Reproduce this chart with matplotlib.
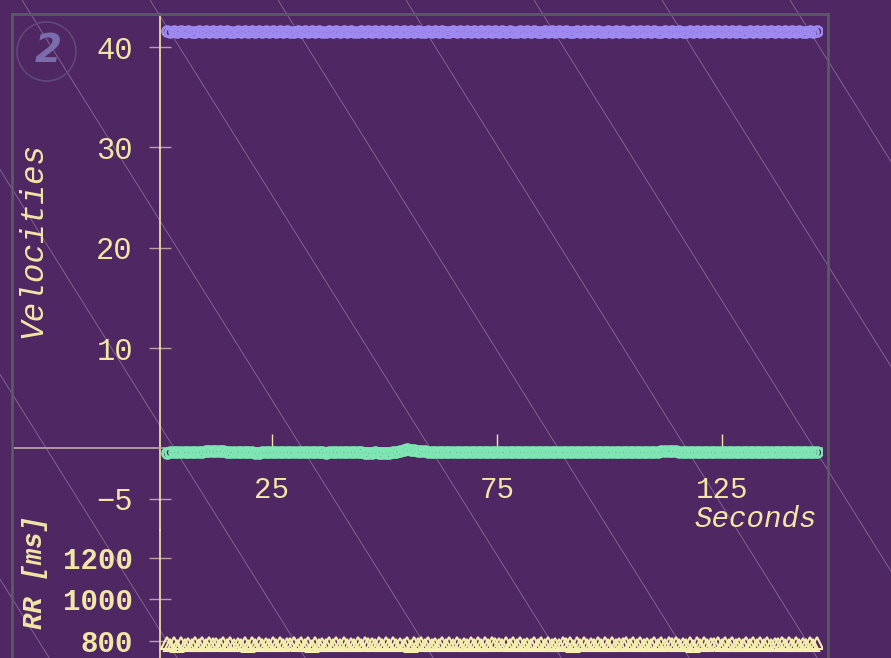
import matplotlib.pyplot as plt
import numpy as np
from matplotlib.lines import Line2D
from matplotlib.patches import Ellipse

# RR intervals (ms), one per beat
rr_ms = [
    792, 781, 789, 778, 790, 783, 787, 779, 791, 782, 788, 780, 790, 784, 786,
    779, 789, 782, 791, 780, 787, 783, 790, 778, 788, 781, 792, 783, 786, 780,
    789, 782, 790, 779, 787, 784, 791, 780, 788, 782, 789, 778, 790, 783, 787,
    781, 791, 779, 788, 783, 790, 780, 787, 782, 792, 779, 789, 784, 786, 780,
    790, 782, 788, 779, 791, 783, 787, 781, 789, 778, 790, 784, 788, 780, 791,
    782, 787, 779, 790, 783, 788, 780, 791, 782, 786, 779, 789, 783, 790, 781,
    788, 780, 791, 784, 787, 779, 790, 782, 789, 781, 792, 783, 786, 780, 790,
    782, 788, 779, 791, 783, 787, 780, 789, 784, 790, 778, 788, 782, 791, 781,
    787, 783, 790, 779, 789, 782, 791, 780, 786, 784, 790, 781, 788, 779, 792,
    783, 787, 781, 790, 782, 789, 779, 788, 784, 791, 780, 787, 783, 790, 778,
    789, 782, 791, 780, 787, 784, 790, 779, 788, 783, 792, 781, 786, 782, 790,
    780, 788, 783, 791, 779, 789, 782, 787, 784, 790, 781, 788, 779, 791, 783,
    787, 780, 790, 782, 788,
]

# velocity series (same beats)
vel_high = [
    41.58, 41.52, 41.60, 41.54, 41.57, 41.51, 41.59, 41.55, 41.53, 41.60, 41.52, 41.58, 41.54, 41.61, 41.53,
    41.57, 41.52, 41.59, 41.55, 41.51, 41.60, 41.54, 41.58, 41.52, 41.57, 41.55, 41.61, 41.53, 41.58, 41.51,
    41.59, 41.54, 41.57, 41.52, 41.60, 41.55, 41.53, 41.58, 41.51, 41.59, 41.54, 41.57, 41.52, 41.60, 41.55,
    41.53, 41.58, 41.52, 41.61, 41.54, 41.57, 41.51, 41.59, 41.55, 41.52, 41.60, 41.54, 41.58, 41.53, 41.57,
    41.52, 41.60, 41.55, 41.58, 41.51, 41.59, 41.54, 41.57, 41.53, 41.61, 41.52, 41.58, 41.55, 41.53, 41.59,
    41.54, 41.57, 41.52, 41.60, 41.55, 41.51, 41.58, 41.53, 41.59, 41.54, 41.57, 41.52, 41.61, 41.55, 41.58,
    41.51, 41.59, 41.54, 41.57, 41.53, 41.60, 41.52, 41.58, 41.55, 41.53, 41.59, 41.54, 41.57, 41.51, 41.60,
    41.55, 41.52, 41.58, 41.54, 41.61, 41.53, 41.57, 41.52, 41.59, 41.55, 41.51, 41.60, 41.54, 41.58, 41.53,
    41.57, 41.52, 41.59, 41.55, 41.53, 41.60, 41.54, 41.58, 41.51, 41.59, 41.55, 41.52, 41.61, 41.54, 41.57,
    41.53, 41.58, 41.52, 41.60, 41.55, 41.51, 41.59, 41.54, 41.57, 41.52, 41.60, 41.55, 41.53, 41.58, 41.54,
    41.61, 41.52, 41.57, 41.55, 41.59, 41.51, 41.58, 41.54, 41.60, 41.53, 41.57, 41.52, 41.59, 41.55, 41.53,
    41.58, 41.54, 41.60, 41.52, 41.57, 41.55, 41.59, 41.51, 41.58, 41.54, 41.61, 41.53, 41.57, 41.52, 41.59,
    41.55, 41.53, 41.58, 41.54, 41.57,
]
vel_low = [
    -0.42, -0.40, -0.38, -0.36, -0.37, -0.35, -0.36, -0.34, -0.35, -0.33, -0.32, -0.30, -0.28, -0.27, -0.26,
    -0.28, -0.30, -0.33, -0.35, -0.36, -0.38, -0.37, -0.36, -0.38, -0.40, -0.42, -0.41, -0.40, -0.38, -0.36,
    -0.35, -0.34, -0.36, -0.37, -0.35, -0.33, -0.32, -0.34, -0.36, -0.38, -0.37, -0.35, -0.36, -0.38, -0.40,
    -0.41, -0.40, -0.38, -0.37, -0.36, -0.35, -0.34, -0.36, -0.38, -0.39, -0.40, -0.41, -0.42, -0.41, -0.40,
    -0.41, -0.42, -0.43, -0.42, -0.40, -0.35, -0.25, -0.15, -0.10, -0.12, -0.18, -0.24, -0.28, -0.30, -0.32,
    -0.33, -0.34, -0.35, -0.36, -0.35, -0.34, -0.33, -0.34, -0.36, -0.37, -0.38, -0.37, -0.36, -0.35, -0.36,
    -0.38, -0.39, -0.40, -0.39, -0.37, -0.36, -0.35, -0.34, -0.33, -0.34, -0.35, -0.36, -0.37, -0.38, -0.37,
    -0.36, -0.35, -0.36, -0.37, -0.38, -0.39, -0.38, -0.37, -0.36, -0.35, -0.34, -0.35, -0.36, -0.37, -0.38,
    -0.39, -0.40, -0.39, -0.38, -0.37, -0.36, -0.35, -0.36, -0.37, -0.38, -0.37, -0.36, -0.35, -0.34, -0.33,
    -0.32, -0.33, -0.34, -0.33, -0.31, -0.29, -0.26, -0.24, -0.25, -0.28, -0.31, -0.33, -0.34, -0.35, -0.36,
    -0.37, -0.36, -0.35, -0.36, -0.37, -0.38, -0.37, -0.36, -0.35, -0.34, -0.35, -0.36, -0.37, -0.36, -0.35,
    -0.34, -0.35, -0.36, -0.37, -0.38, -0.37, -0.36, -0.35, -0.34, -0.35, -0.36, -0.37, -0.36, -0.35, -0.34,
    -0.35, -0.36, -0.35, -0.34, -0.33,
]
t_start = 0.85  # s, time of first beat

vel_ticks = [-5, 10, 20, 30, 40]
rr_ticks = [800, 1000, 1200]
time_ticks = [25, 75, 125]

BG = '#4f2763'
TXT = '#f0e6a6'
TICK = '#b9a0a6'
MONO = ['Liberation Mono', 'DejaVu Sans Mono']

t = t_start + np.cumsum(rr_ms) / 1000.0

W, H = 891, 658
fig = plt.figure(figsize=(W / 100, H / 100), dpi=100, facecolor=BG)

def fx(px):
    return px / W

def fy(py):
    return 1 - py / H

# diagonal background hatching
for k in range(-4, 9):
    x0 = 22 + 128 * k
    fig.add_artist(Line2D([fx(x0), fx(x0 + H / 1.6)], [1, 0], color='white',
                          alpha=0.28, lw=0.7, zorder=0))

# grey frame
frame = dict(color='#5a5a64', lw=2, zorder=1)
fig.add_artist(Line2D([fx(12), fx(12)], [fy(14), 0], **frame))
fig.add_artist(Line2D([fx(12), fx(828)], [fy(14), fy(14)], **frame))
fig.add_artist(Line2D([fx(828), fx(828)], [fy(14), 0], **frame))

# panel badge
fig.add_artist(Ellipse((fx(46.5), fy(51.5)), 59 / W, 59 / H, fill=False,
                       ec='#5e4a78', lw=1.2, zorder=2))
fig.text(fx(48), fy(51), '2', fontsize=28, fontweight='bold', style='italic',
         color='#7b6cae', ha='center', va='center', family='DejaVu Sans')

# top axes: velocities
ax_left, ax_right = 13, 822
x_per_px = 1 / 4.5
x0_px = 159.5
xlim = ((ax_left - x0_px) * x_per_px, (ax_right - x0_px) * x_per_px)

ax = fig.add_axes([fx(ax_left), fy(530), fx(ax_right) - fx(ax_left), fy(14) - fy(530)])
ax.set_facecolor('none')
ax.set_xlim(xlim)
y0_px, ppu = 448.4, 10.033
ax.set_ylim((y0_px - 530) / ppu, (y0_px - 14) / ppu)

ax.plot(t, vel_high, ls='none', marker='o', ms=7.2, mew=1.9, mfc='none',
        mec='#9d89f0', zorder=3)
ax.plot(t, vel_low, ls='none', marker='o', ms=7.2, mew=1.9, mfc='none',
        mec='#7ee6b2', zorder=3)

for s in ['top', 'right']:
    ax.spines[s].set_visible(False)
ax.spines['left'].set_position(('data', 0))
ax.spines['bottom'].set_position(('data', 0))
ax.spines['left'].set_color('#e6dca0')
ax.spines['left'].set_linewidth(1.3)
ax.spines['bottom'].set_color(TICK)
ax.spines['bottom'].set_linewidth(1.3)

ax.set_yticks(vel_ticks)
ax.set_yticklabels([str(v).replace('-', '\u2212') for v in vel_ticks])
ax.set_xticks(time_ticks)
ax.set_xticklabels([str(v) for v in time_ticks])
ax.tick_params(axis='y', direction='inout', length=16.5, width=1, color=TICK,
               labelcolor=TXT, labelsize=22, pad=11)
ax.tick_params(axis='x', direction='in', length=10, width=1, color=TXT,
               labelcolor=TXT, labelsize=21, pad=20)
for lab in ax.get_xticklabels() + ax.get_yticklabels():
    lab.set_family(MONO)

fig.text(fx(817), fy(519), 'Seconds', fontsize=21, style='italic', color=TXT,
         ha='right', va='center', family=MONO)
fig.text(fx(33), fy(240), 'Velocities', fontsize=23.5, style='italic', color=TXT,
         rotation=90, ha='center', va='center', family=MONO)

# bottom axes: RR
rr_ppu = 41.5 / 200
rr_bottom_px = 760
ax2 = fig.add_axes([fx(ax_left), fy(rr_bottom_px), fx(ax_right) - fx(ax_left),
                    fy(530) - fy(rr_bottom_px)])
ax2.set_facecolor('none')
ax2.set_xlim(xlim)
ax2.set_ylim(800 - (rr_bottom_px - 641) / rr_ppu, 800 + (641 - 530) / rr_ppu)
ax2.plot(t, rr_ms, ls='none', marker='^', ms=8, mew=1.5, mfc='none',
         mec='#f5eeae', zorder=3)
for s in ['top', 'right', 'bottom']:
    ax2.spines[s].set_visible(False)
ax2.spines['left'].set_position(('data', 0))
ax2.spines['left'].set_color('#e6dca0')
ax2.spines['left'].set_linewidth(1.3)
ax2.set_xticks([])
ax2.set_yticks(rr_ticks)
ax2.set_yticklabels([str(v) for v in rr_ticks])
ax2.tick_params(axis='y', direction='inout', length=16.5, width=1, color=TICK,
                labelcolor=TXT, labelsize=21, pad=11)
for lab in ax2.get_yticklabels():
    lab.set_family(MONO)
    lab.set_fontweight('bold')

fig.text(fx(35), fy(572), 'RR [ms]', fontsize=19.5, style='italic', fontweight='bold',
         color=TXT, rotation=90, ha='center', va='center', family=MONO)

fig.savefig('out.png', dpi=100, facecolor=BG)
